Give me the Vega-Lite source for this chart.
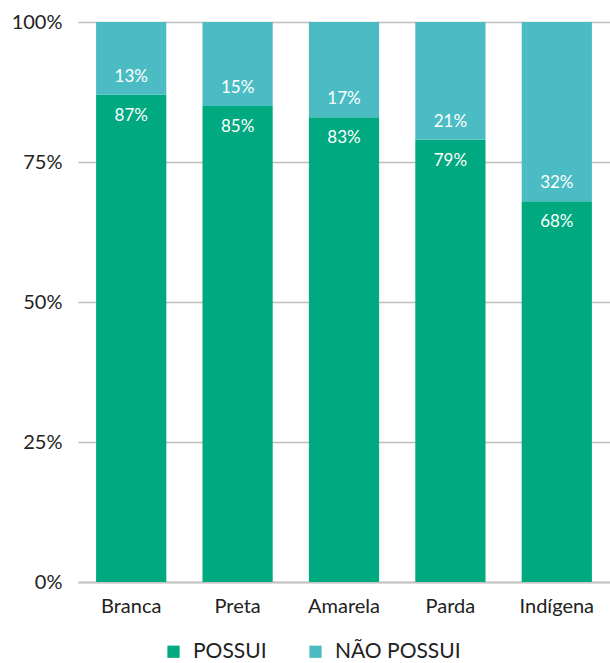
{
  "$schema": "https://vega.github.io/schema/vega-lite/v6.json",
  "autosize": "none",
  "width": 532,
  "height": 560,
  "padding": {"left": 78, "top": 22, "right": 0, "bottom": 81},
  "background": "white",
  "config": {
    "font": "Lato",
    "view": {"stroke": null}
  },
  "data": {
    "values": [
      {"cat": "Branca", "POSSUI": 0.87, "NÃO POSSUI": 0.13},
      {"cat": "Preta", "POSSUI": 0.85, "NÃO POSSUI": 0.15},
      {"cat": "Amarela", "POSSUI": 0.83, "NÃO POSSUI": 0.17},
      {"cat": "Parda", "POSSUI": 0.79, "NÃO POSSUI": 0.21},
      {"cat": "Indígena", "POSSUI": 0.68, "NÃO POSSUI": 0.32}
    ]
  },
  "encoding": {
    "x": {
      "field": "cat", "type": "nominal", "sort": null,
      "scale": {"paddingInner": 0.34, "paddingOuter": 0.17},
      "axis": {"title": null, "labelAngle": 0, "ticks": false, "domainColor": "#c4c4c4", "domainWidth": 2, "labelFontSize": 20, "labelColor": "#222222", "labelPadding": 14, "labelFont": "Lato"}
    }
  },
  "layer": [
    {
      "transform": [{"fold": ["POSSUI", "NÃO POSSUI"], "as": ["grupo", "valor"]}],
      "mark": {"type": "bar"},
      "encoding": {
        "y": {
          "field": "valor", "type": "quantitative", "stack": "zero",
          "scale": {"domain": [0, 1]},
          "axis": {"title": null, "format": ".0%", "values": [0, 0.25, 0.5, 0.75, 1], "domain": false, "ticks": false, "gridColor": "#bdbdbd", "gridWidth": 1.5, "labelFontSize": 20, "labelColor": "#222222", "labelPadding": 16, "labelFont": "Lato"}
        },
        "color": {
          "field": "grupo", "type": "nominal",
          "scale": {"domain": ["POSSUI", "NÃO POSSUI"], "range": ["#00a97f", "#4cbcc4"]},
          "legend": {"title": null, "orient": "none", "direction": "horizontal", "legendX": 85, "legendY": 619, "symbolType": "square", "symbolSize": 150, "symbolStrokeWidth": 0, "labelFontSize": 21, "labelColor": "#222222", "labelFont": "Lato", "columnPadding": 38, "labelOffset": 9}
        },
        "order": {"field": "grupo", "sort": "descending"}
      }
    },
    {
      "mark": {"type": "text", "color": "white", "fontSize": 17, "baseline": "middle", "dy": 21},
      "encoding": {
        "y": {"field": "POSSUI", "type": "quantitative"},
        "text": {"field": "POSSUI", "type": "quantitative", "format": ".0%"}
      }
    },
    {
      "mark": {"type": "text", "color": "white", "fontSize": 17, "baseline": "middle", "dy": -18},
      "encoding": {
        "y": {"field": "POSSUI", "type": "quantitative"},
        "text": {"field": "NÃO POSSUI", "type": "quantitative", "format": ".0%"}
      }
    }
  ]
}
